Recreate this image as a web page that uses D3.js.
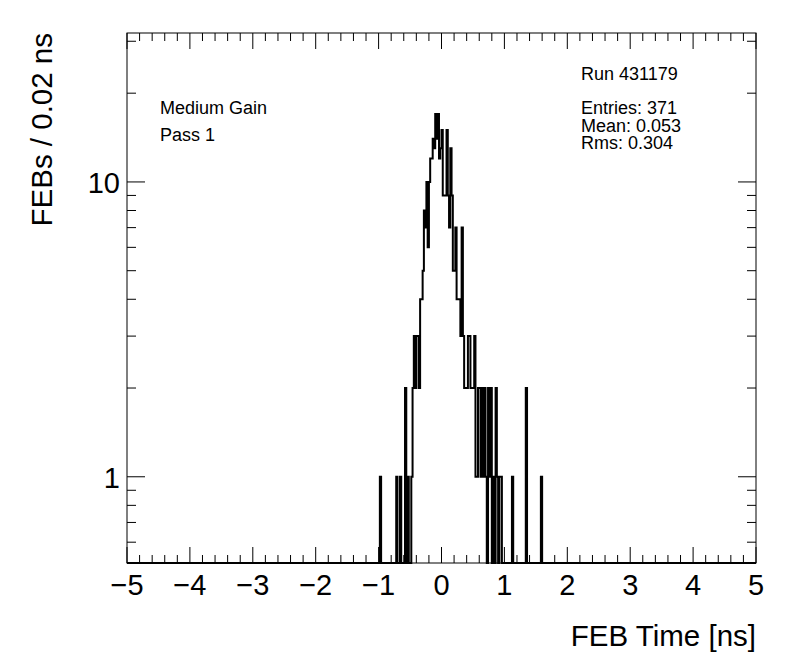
<!DOCTYPE html>
<html>
<head>
    <title>FEB Time</title>
    <script src="https://cdnjs.cloudflare.com/ajax/libs/d3/7.8.5/d3.min.js"></script>
    <style>
        body { margin: 0; background: #fff; }
        text { font-family: "Liberation Sans", Arial, Helvetica, sans-serif; fill: #000; }
        .frame { fill: none; stroke: #000; stroke-width: 1; }
        .tick-mark { stroke: #000; stroke-width: 1; }
        .hist { fill: none; stroke: #000; stroke-width: 2; }
    </style>
</head>
<body>
    <div id="chart"></div>
    <script>
        // histogram: 0.02 ns bins starting at -1.00 ns (all other bins are empty)
        const binStart = -1.0;
        const binWidth = 0.02;
        const counts = [
            0, 1, 0, 0, 0, 0, 0, 0, 0, 0,      // -1.00 .. -0.82
            0, 0, 0, 0, 1, 0, 0, 1, 0, 0,      // -0.80 .. -0.62
            0, 2, 0, 1, 0, 0, 1, 2, 3, 2,      // -0.60 .. -0.42
            3, 3, 2, 4, 4, 5, 8, 7, 10, 6,     // -0.40 .. -0.22
            10, 12, 12, 14, 13, 17, 14, 17, 12, 13, // -0.20 .. -0.02
            15, 9, 9, 9, 15, 9, 7, 13, 9, 5,   //  0.00 ..  0.18
            5, 7, 4, 4, 4, 3, 7, 3, 2, 2,      //  0.20 ..  0.38
            2, 3, 3, 2, 2, 2, 3, 1, 1, 2,      //  0.40 ..  0.58
            2, 1, 2, 1, 2, 1, 0, 2, 1, 2,      //  0.60 ..  0.78
            0, 1, 0, 2, 1, 0, 1, 1, 0, 0,      //  0.80 ..  0.98
            0, 0, 0, 0, 0, 0, 1, 0, 0, 0,      //  1.00 ..  1.18
            0, 0, 0, 0, 0, 0, 0, 2, 0, 0,      //  1.20 ..  1.38
            0, 0, 0, 0, 0, 0, 0, 0, 0, 1,      //  1.40 ..  1.58
            0
        ];

        const xMajorTicks = [-5, -4, -3, -2, -1, 0, 1, 2, 3, 4, 5];
        const yMajorTicks = [1, 10];
        const yMinorTicks = [0.6, 0.7, 0.8, 0.9, 2, 3, 4, 5, 6, 7, 8, 9, 20, 30];
        const leftLabels = ['Medium Gain', 'Pass 1'];
        const statLabels = ['Run 431179', 'Entries: 371', 'Mean: 0.053', 'Rms: 0.304'];

        const W = 796, H = 672;
        const frame = { left: 127, right: 756, top: 33, bottom: 563 };

        const svg = d3.select('#chart').append('svg')
            .attr('width', W)
            .attr('height', H);

        svg.append('rect').attr('width', W).attr('height', H).attr('fill', '#fff');

        const x = d3.scaleLinear().domain([-5, 5]).range([frame.left, frame.right]);
        const y = d3.scaleLog().domain([0.51, 32]).range([frame.bottom, frame.top]);

        // minor x ticks every 0.2
        const xMinor = d3.range(-5, 5.0001, 0.2).map(v => +v.toFixed(1))
            .filter(v => !xMajorTicks.includes(v));

        // histogram outline (empty bins sit on the bottom of the frame in log scale)
        const pts = [[x(-5), frame.bottom]];
        counts.forEach((c, i) => {
            const lo = binStart + i * binWidth;
            const hi = lo + binWidth;
            const yy = c > 0 ? y(c) : frame.bottom;
            pts.push([x(lo), yy], [x(hi), yy]);
        });
        pts.push([x(5), frame.bottom]);

        svg.append('path')
            .attr('class', 'hist')
            .attr('d', d3.line()(pts));

        // frame
        svg.append('rect')
            .attr('class', 'frame')
            .attr('x', frame.left)
            .attr('y', frame.top)
            .attr('width', frame.right - frame.left)
            .attr('height', frame.bottom - frame.top);

        const ticks = svg.append('g');

        // x ticks, bottom and top, pointing inward
        function xTicks(vals, len) {
            vals.forEach(v => {
                ticks.append('line').attr('class', 'tick-mark')
                    .attr('x1', x(v)).attr('x2', x(v))
                    .attr('y1', frame.bottom).attr('y2', frame.bottom - len);
                ticks.append('line').attr('class', 'tick-mark')
                    .attr('x1', x(v)).attr('x2', x(v))
                    .attr('y1', frame.top).attr('y2', frame.top + len);
            });
        }
        xTicks(xMajorTicks, 16);
        xTicks(xMinor, 8);

        // y ticks, left and right
        function yTicks(vals, len) {
            vals.forEach(v => {
                ticks.append('line').attr('class', 'tick-mark')
                    .attr('x1', frame.left).attr('x2', frame.left + len)
                    .attr('y1', y(v)).attr('y2', y(v));
                ticks.append('line').attr('class', 'tick-mark')
                    .attr('x1', frame.right).attr('x2', frame.right - len)
                    .attr('y1', y(v)).attr('y2', y(v));
            });
        }
        yTicks(yMajorTicks, 18);
        yTicks(yMinorTicks, 9);

        // tick labels
        svg.selectAll('.xlabel')
            .data(xMajorTicks)
            .enter()
            .append('text')
            .attr('class', 'xlabel')
            .attr('x', d => x(d))
            .attr('y', 595)
            .attr('text-anchor', 'middle')
            .style('font-size', '29px')
            .text(d => d < 0 ? '\u2212' + Math.abs(d) : d);

        svg.selectAll('.ylabel')
            .data(yMajorTicks)
            .enter()
            .append('text')
            .attr('class', 'ylabel')
            .attr('x', 120)
            .attr('y', d => y(d) + 11)
            .attr('text-anchor', 'end')
            .style('font-size', '29px')
            .text(d => d);

        // axis titles
        svg.append('text')
            .attr('x', frame.right)
            .attr('y', 646)
            .attr('text-anchor', 'end')
            .style('font-size', '29.5px')
            .text('FEB Time [ns]');

        svg.append('text')
            .attr('transform', `translate(52,${frame.top}) rotate(-90)`)
            .attr('text-anchor', 'end')
            .style('font-size', '29.5px')
            .text('FEBs / 0.02 ns');

        // annotations
        const leftY = [114, 141];
        svg.selectAll('.note')
            .data(leftLabels)
            .enter()
            .append('text')
            .attr('class', 'note')
            .attr('x', 160)
            .attr('y', (d, i) => leftY[i])
            .style('font-size', '18px')
            .text(d => d);

        const statY = [80, 114, 132, 149];
        svg.selectAll('.stat')
            .data(statLabels)
            .enter()
            .append('text')
            .attr('class', 'stat')
            .attr('x', 581)
            .attr('y', (d, i) => statY[i])
            .style('font-size', '18px')
            .text(d => d);
    </script>
</body>
</html>
